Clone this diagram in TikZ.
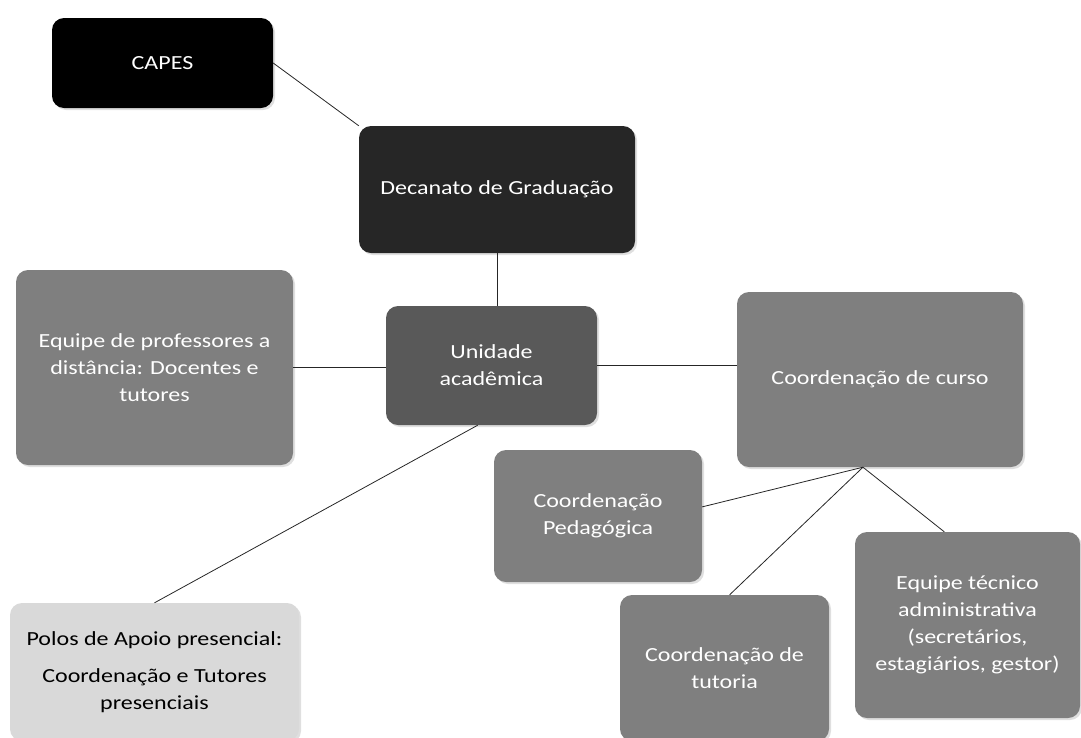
\documentclass[tikz,border=0pt]{standalone}
\usepackage{fontspec}
\setmainfont{Carlito}[FakeStretch=1.2]
\usetikzlibrary{shadows}

\definecolor{decanatogray}{HTML}{262626}
\definecolor{unidadegray}{HTML}{595959}
\definecolor{boxgray}{HTML}{7F7F7F}
\definecolor{polosgray}{HTML}{D9D9D9}

\tikzset{
  orgbox/.style={rounded corners=12pt, align=center, text=white,
    font=\fontsize{20}{27}\selectfont,
    drop shadow={opacity=0.25, shadow xshift=2pt, shadow yshift=-2pt}},
  link/.style={draw=black!85, line width=0.8pt}
}

\begin{document}
\begin{tikzpicture}[x=1pt,y=-1pt]
        \useasboundingbox (0,0) rectangle (1081,737);

        % draw the boxes
        \node[orgbox, fill=black, minimum width=221pt, minimum height=90pt] (capes) at (162.5,63) {CAPES};
        \node[orgbox, fill=decanatogray, minimum width=276pt, minimum height=127pt] (decanato) at (497,189.5) {Decanato de Graduação};
        \node[orgbox, fill=unidadegray, minimum width=211pt, minimum height=119pt] (unidade) at (491.5,365.5) {Unidade\\acadêmica};
        \node[orgbox, fill=boxgray, minimum width=277pt, minimum height=195pt] (equipe) at (154.5,367.5) {Equipe de professores a\\distância: Docentes e\\tutores};
        \node[orgbox, fill=boxgray, minimum width=286pt, minimum height=175pt] (curso) at (880,379.5) {Coordenação de curso};
        \node[orgbox, fill=boxgray, minimum width=208pt, minimum height=132pt] (pedag) at (598,516) {Coordenação\\Pedagógica};
        \node[orgbox, fill=boxgray, minimum width=209pt, minimum height=146pt] (tutoria) at (724.5,668) {Coordenação de\\tutoria};
        \node[orgbox, fill=boxgray, minimum width=225pt, minimum height=186pt] (tecnico) at (967.5,625) {Equipe técnico\\administrativa\\(secretários,\\estagiários, gestor)};
        \node[orgbox, fill=polosgray, text=black, minimum width=289pt, minimum height=138pt] (polos) at (154.5,672) {Polos de Apoio presencial:\\[10pt]Coordenação e Tutores\\presenciais};

        % draw the connectors
        \draw[link] (capes.east) -- (decanato.north west);
        \draw[link] (decanato.south) -- (decanato.south |- unidade.north);
        \draw[link] (equipe.east) -- (equipe.east -| unidade.west);
        \draw[link] (unidade.east) -- (unidade.east -| curso.west);
        \draw[link] (unidade.-103) -- (polos.north);

        % branches below the course box
        \coordinate (ramo) at (curso.-101);
        \foreach \alvo in {pedag.5, tutoria.86, tecnico.104}
                \draw[link] (ramo) -- (\alvo);

\end{tikzpicture}
\end{document}
